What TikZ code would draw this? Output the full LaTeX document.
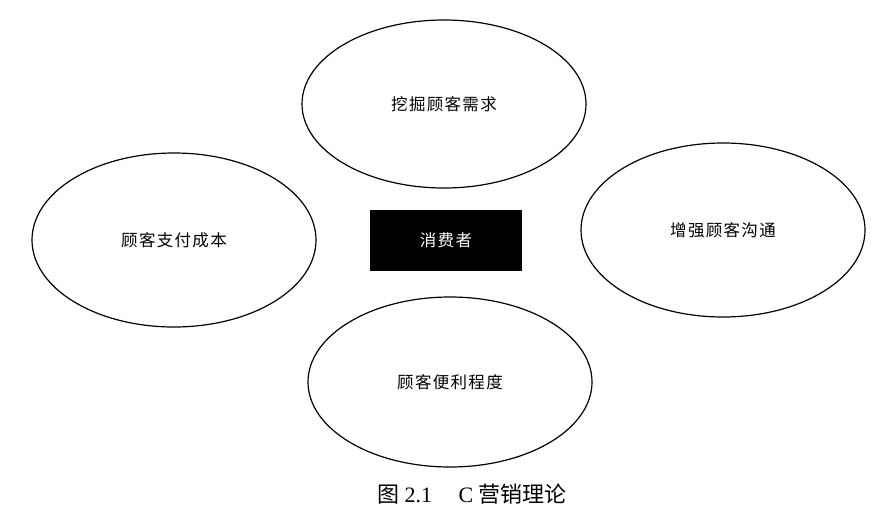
\documentclass[tikz,border=0pt]{standalone}
\usepackage{fontspec}
\setmainfont{Liberation Serif}
\newfontfamily\cjk[LetterSpace=8]{Noto Sans CJK SC}
\newfontfamily\cjkcap{Noto Sans CJK SC}
\usetikzlibrary{shapes.geometric}
\begin{document}
\begin{tikzpicture}[x=1pt,y=-1pt,
  oval/.style={draw=black,line width=1.2pt,ellipse,minimum width=284pt,minimum height=170pt,inner sep=0pt,font=\cjk\fontsize{16.5}{18}\selectfont}]
\useasboundingbox (0,0) rectangle (890,530);
\node[oval,minimum height=168pt] (top) at (444,104) {挖掘顾客需求};
\node[oval,minimum height=174pt] (left) at (174,240) {顾客支付成本};
\node[oval,minimum height=174pt] (right) at (723,230) {增强顾客沟通};
\node[oval] (bottom) at (450,382) {顾客便利程度};
\node[fill=black,minimum width=152pt,minimum height=61pt,inner sep=0pt,text=white,font=\cjk\fontsize{16.5}{18}\selectfont] (c) at (446,240) {\raisebox{-6pt}{消费者}};
\node[font=\fontsize{22}{26}\selectfont] (cap) at (472,494) {{\cjkcap 图} 2.1\hspace{1.2em}C {\cjkcap 营销理论}};
\end{tikzpicture}
\end{document}
